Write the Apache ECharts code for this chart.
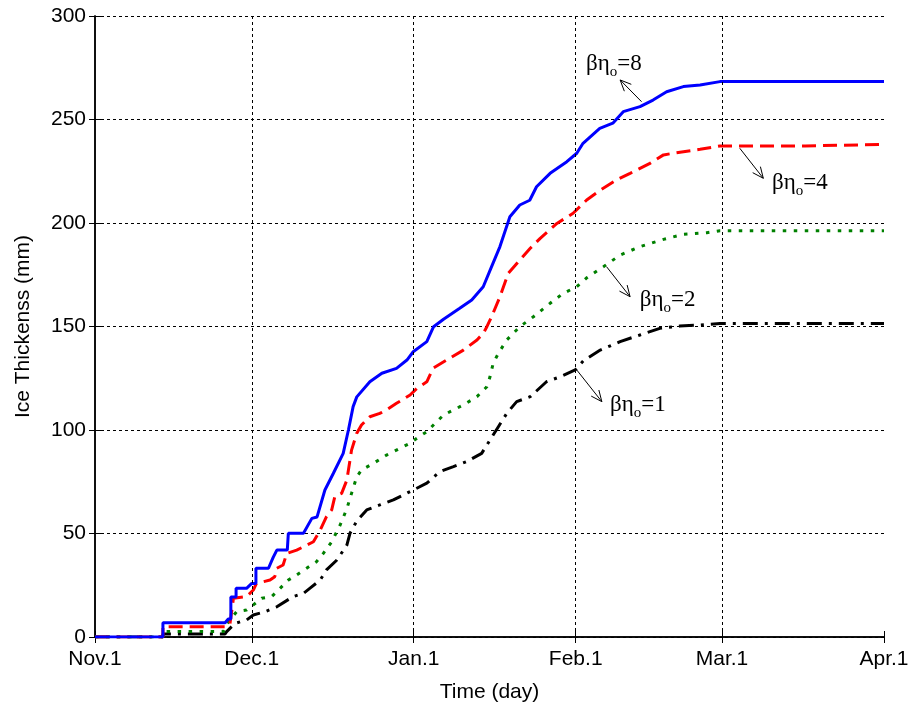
<!DOCTYPE html>
<html>
<head>
<meta charset="utf-8">
<script src="https://cdn.jsdelivr.net/npm/echarts@6/dist/echarts.min.js"></script>
<style>
  html, body { margin: 0; background: #fff; }
  #chart { width: 914px; height: 703px; }
</style>
</head>
<body>
<div id="chart"></div>
<script>
// x = days since Nov.1, y = ice thickness (mm)
const tickDays = [0, 30, 61, 92, 120, 151]
const tickLabels = ['Nov.1', 'Dec.1', 'Jan.1', 'Feb.1', 'Mar.1', 'Apr.1']

const beta8 = [[0, 0], [13, 0], [13, 6.9], [24.9, 6.9], [25.5, 8.7], [26, 8.7], [26, 19.3], [27, 19.3], [27, 23.5],
  [29, 23.5], [30, 25.9], [30.8, 25.9], [30.8, 33.2], [33.2, 33.2], [34.1, 38.5], [34.8, 42], [36.8, 42], [37, 50.1],
  [39.9, 50.1], [41.5, 57.3], [42.5, 58], [44, 71], [45.6, 79], [47.5, 88.7], [48.5, 100], [49.4, 111.3], [50.1, 116],
  [52.6, 123.3], [54.9, 127.4], [57.7, 129.8], [59.7, 133.8], [60.9, 137.8], [63.5, 142.7], [64.8, 149.9], [66.7, 153.5],
  [69.8, 158.8], [72.1, 162.8], [74.3, 169.2], [75.9, 178.9], [77.5, 188.6], [79.4, 203], [81.3, 208.7], [83.2, 211],
  [84.5, 217.5], [87.1, 224], [90.3, 229.6], [92.2, 233.7], [93.4, 238.5], [96.6, 245.7], [99.1, 248.2], [101.1, 253.8],
  [104.3, 256.2], [106.8, 259.4], [109.4, 263.4], [112.6, 265.9], [115.8, 266.7], [119.6, 268.3], [151, 268.3]]

const beta4 = [[0, 0], [13, 0], [13, 5], [25.2, 5], [25.8, 5.8], [26.5, 18.7], [29, 19.5], [30.3, 22.7], [30.9, 25.9],
  [33.5, 27.5], [34.4, 29.1], [34.8, 33.2], [36, 34.8], [36.7, 40.4], [38.6, 42], [39.9, 43.6], [41.8, 46], [43.1, 51.7],
  [44.3, 58.1], [45.3, 61.4], [45.9, 67.8], [47.2, 69.4], [48.2, 75.8], [49.1, 90.3], [50.1, 98.4], [51, 102.4],
  [52.6, 106.4], [54.5, 108], [55.8, 109.7], [57.7, 112.9], [60.3, 116.9], [61.6, 120.1], [63.5, 123.3], [64.7, 129.8],
  [67.3, 133.8], [70.5, 138.6], [73.1, 143.5], [74.3, 146.7], [75, 149.9], [75.9, 154.7], [77.5, 164.4], [79.1, 175.7],
  [81.3, 182.1], [83.3, 187.8], [85.2, 192.6], [88.4, 199.8], [91.5, 204.7], [94.1, 211.1], [96.7, 215.9], [99.8, 220.8],
  [102.4, 224], [106.2, 228.8], [108.8, 232.9], [110.7, 233.7], [115.8, 235.6], [119.6, 237.2], [135.9, 237.2],
  [136.1, 238], [151, 238]]

const beta2 = [[0, 0], [13, 0], [13, 2.6], [24.6, 2.6], [25, 5], [25.8, 8.2], [27.1, 12.2], [29, 13], [30.3, 15.5],
  [31.9, 18.7], [33.8, 19.5], [35.1, 22.7], [37, 27.5], [38.6, 30], [40.5, 33.2], [42.4, 36.4], [43.7, 40.4], [45.3, 46],
  [46.9, 54], [48.2, 62], [49.1, 69.4], [50.1, 77.4], [51, 80.7], [53.3, 83.9], [55.8, 87.9], [58.4, 91.2], [60.3, 93.6],
  [61.6, 96], [63.5, 99.2], [65.4, 104], [66.7, 107.2], [68.6, 109.7], [70.5, 112.1], [73.1, 116.1], [75, 120.9],
  [75.6, 125.7], [76.2, 132.2], [77.2, 137], [78.8, 143.5], [81.3, 149.9], [83.9, 154.7], [87.1, 161.2], [89.6, 166],
  [92.2, 169.2], [94.1, 173.5], [97.3, 178.9], [100.5, 184.5], [104.3, 188.6], [108.8, 192.1], [112.6, 194.5],
  [117.1, 195.3], [119.6, 196.3], [151, 196.3]]

const beta1 = [[0, 0], [13, 0], [13, 1.5], [24.9, 1.5], [25.2, 2.6], [26.8, 6.6], [29, 8.2], [30.3, 10.6], [32.5, 12.2],
  [34.8, 14.6], [37.9, 19.5], [39.9, 21.1], [41.1, 23.5], [43.1, 27.5], [44.3, 32.4], [46.3, 37.2], [48.2, 44.4],
  [48.8, 50.1], [50.1, 56], [52, 61.4], [54.5, 63.8], [57.1, 66.2], [59, 68.6], [60.9, 71], [63.5, 74.3], [66, 79.9],
  [68.6, 82.3], [71.1, 84.7], [74, 88.7], [75.6, 95.2], [77.2, 101.6], [78.8, 108], [80.7, 113.7], [83.3, 116.1],
  [86.4, 123.3], [89, 125.7], [91.9, 129], [93.5, 133.5], [96.7, 138.6], [100.5, 142.7], [104.3, 145.9], [108.1, 149.1],
  [111.9, 150.2], [115.8, 150.7], [119.6, 151.5], [151, 151.5]]

// annotation: label value, label anchor, arrow tail (on curve), arrow head
const noteValues = ['8', '4', '2', '1']
const noteText = [[99.3, 276.8], [134.9, 219.3], [109.6, 162.8], [103.9, 112.1]]
const noteTail = [[104.6, 258.6], [123.4, 236.1], [97.9, 178.9], [92.2, 129]]
const noteHead = [[100.5, 269.1], [127.9, 221.6], [102.4, 164.4], [97, 113.7]]

const sansFont = 'Liberation Sans'
const serifFont = 'Liberation Serif'

let chart = echarts.init(document.getElementById('chart'), null, {renderer: 'canvas'})

function tickLabel(v) {
  let i = tickDays.indexOf(Math.round(v))
  return i === -1 ? '' : tickLabels[i]
}

let frame = {show: true, lineStyle: {color: '#000', width: 1.5}}
let inTick = {show: true, inside: true, length: 6, lineStyle: {color: '#000', width: 1}}
let gridDots = {color: '#000', width: 1, type: [3, 3]}

function curve(name, data, color, type) {
  return {
    name: name,
    type: 'line',
    data: data,
    showSymbol: false,
    symbol: 'none',
    animation: false,
    z: 3,
    lineStyle: {color: color, width: 3, type: type, cap: 'butt'}
  }
}

let option = {
  animation: false,
  backgroundColor: '#fff',
  grid: {left: 95, right: 30, top: 16, bottom: 66, containLabel: false, outerBoundsMode: 'none'},
  xAxis: [{
    type: 'value',
    min: 0,
    max: 151,
    name: 'Time (day)',
    nameLocation: 'middle',
    nameGap: 45,
    nameTextStyle: {fontFamily: sansFont, fontSize: 21, color: '#000'},
    axisLine: frame,
    axisTick: Object.assign({customValues: tickDays}, inTick),
    axisLabel: {
      customValues: tickDays,
      formatter: tickLabel,
      margin: 12,
      fontFamily: sansFont,
      fontSize: 21,
      color: '#000'
    },
    splitLine: {show: false}
  }, {
    type: 'value',
    position: 'top',
    min: 0,
    max: 151,
    axisLine: frame,
    axisTick: Object.assign({customValues: tickDays}, inTick),
    axisLabel: {show: false},
    splitLine: {show: false}
  }],
  yAxis: [{
    type: 'value',
    min: 0,
    max: 300,
    interval: 50,
    name: 'Ice Thickenss (mm)',
    nameLocation: 'middle',
    nameGap: 61,
    nameTextStyle: {fontFamily: sansFont, fontSize: 21, color: '#000'},
    axisLine: frame,
    axisTick: inTick,
    axisLabel: {margin: 9, fontFamily: sansFont, fontSize: 21, color: '#000'},
    splitLine: {show: true, lineStyle: gridDots}
  }, {
    type: 'value',
    position: 'right',
    min: 0,
    max: 300,
    interval: 50,
    axisLine: frame,
    axisTick: inTick,
    axisLabel: {show: false},
    splitLine: {show: false}
  }],
  series: [
    {
      // vertical grid lines at month boundaries
      type: 'line',
      data: [],
      silent: true,
      z: 1,
      markLine: {
        silent: true,
        symbol: ['none', 'none'],
        label: {show: false},
        animation: false,
        lineStyle: gridDots,
        data: tickDays.slice(1, -1).map(function (d) {
          return {xAxis: d}
        })
      }
    },
    curve('βηo=1', beta1, '#000', [15, 7, 3, 7]),
    curve('βηo=2', beta2, '#008000', [3.5, 7.5]),
    curve('βηo=4', beta4, '#ff0000', [14, 7]),
    curve('βηo=8', beta8, '#0000ff', 'solid')
  ]
}

chart.setOption(option)

// arrows and labels placed from data coordinates
let toPx = function (p) {
  return chart.convertToPixel({xAxisIndex: 0, yAxisIndex: 0}, p)
}
let elements = []
noteValues.forEach(function (v, i) {
  let t = toPx(noteText[i])
  let a = toPx(noteTail[i])
  let b = toPx(noteHead[i])
  let ang = Math.atan2(b[1] - a[1], b[0] - a[0])
  let len = 12
  let spread = 0.42
  let w1 = [b[0] - len * Math.cos(ang - spread), b[1] - len * Math.sin(ang - spread)]
  let w2 = [b[0] - len * Math.cos(ang + spread), b[1] - len * Math.sin(ang + spread)]
  elements.push({
    type: 'line',
    shape: {x1: a[0], y1: a[1], x2: b[0], y2: b[1]},
    style: {stroke: '#000', lineWidth: 1},
    z: 10
  })
  elements.push({
    type: 'polyline',
    shape: {points: [w1, b, w2]},
    style: {stroke: '#000', lineWidth: 1, fill: null},
    z: 10
  })
  elements.push({
    type: 'text',
    x: t[0],
    y: t[1],
    z: 10,
    style: {
      text: '{b|βη}{s|o}{b|=' + v + '}',
      align: 'center',
      verticalAlign: 'middle',
      rich: {
        b: {fontFamily: serifFont, fontSize: 23, lineHeight: 32, verticalAlign: 'middle', fill: '#000'},
        s: {fontFamily: serifFont, fontSize: 15, lineHeight: 32, verticalAlign: 'bottom', fill: '#000'}
      }
    }
  })
})
chart.setOption({graphic: {elements: elements}})
</script>
</body>
</html>
